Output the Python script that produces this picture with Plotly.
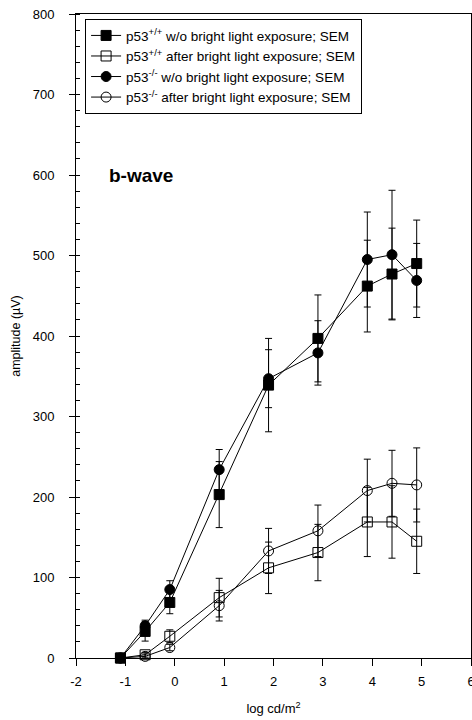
import plotly.graph_objects as go

# Stimulus intensities (log cd/m^2)
log_int = [-1.1, -0.6, -0.1, 0.9, 1.9, 2.9, 3.9, 4.4, 4.9]

# b-wave amplitudes (µV) and SEM
wt_dark = [0, 33, 69, 203, 339, 397, 462, 477, 490]
wt_dark_sem = [0, 12, 14, 41, 58, 54, 57, 57, 54]
wt_light = [0, 4, 27, 75, 112, 131, 169, 169, 145]
wt_light_sem = [0, 3, 8, 24, 32, 35, 43, 45, 40]
ko_dark = [0, 40, 85, 234, 347, 379, 495, 501, 469]
ko_dark_sem = [0, 7, 11, 25, 36, 40, 59, 80, 46]
ko_light = [0, 2, 13, 65, 133, 158, 208, 217, 215]
ko_light_sem = [0, 3, 4, 19, 28, 32, 39, 41, 46]

# Axis tick labels (plain hyphen minus)
x_ticks = [-2, -1, 0, 1, 2, 3, 4, 5, 6]
x_ticktext = ["-2", "-1", "0", "1", "2", "3", "4", "5", "6"]

names = [
    "p53<sup>+/+</sup> w/o bright light exposure; SEM",
    "p53<sup>+/+</sup> after bright light exposure; SEM",
    "p53<sup>-/-</sup> w/o bright light exposure; SEM",
    "p53<sup>-/-</sup> after bright light exposure; SEM",
]
series = [
    (wt_dark, wt_dark_sem, "square"),
    (wt_light, wt_light_sem, "square-open"),
    (ko_dark, ko_dark_sem, "circle"),
    (ko_light, ko_light_sem, "circle-open"),
]

FONT = "Liberation Sans, Arial, sans-serif"

fig = go.Figure()
for name, (vals, sem, sym) in zip(names, series):
    fig.add_trace(go.Scatter(
        x=log_int, y=vals, name=name, mode="lines+markers",
        line=dict(color="black", width=1),
        marker=dict(symbol=sym, size=10, color="black",
                    line=dict(color="black", width=1)),
        error_y=dict(type="data", array=sem, visible=True,
                     color="black", thickness=1, width=3.5),
        cliponaxis=False,
    ))

fig.add_annotation(x=-0.69, y=599, xref="x", yref="y", text="<b>b-wave</b>",
                   showarrow=False, font=dict(family=FONT, size=19, color="black"))

fig.update_layout(
    width=472, height=720,
    margin=dict(l=76, r=1, t=14, b=62),
    paper_bgcolor="white", plot_bgcolor="white",
    font=dict(family=FONT, size=13, color="black"),
    showlegend=True,
    legend=dict(x=0.023, y=0.992, xanchor="left", yanchor="top",
                bgcolor="white", bordercolor="black", borderwidth=1,
                font=dict(family=FONT, size=13.5, color="black"),
                tracegroupgap=0, itemwidth=30),
)
fig.update_xaxes(
    range=[-2, 6], tickvals=x_ticks, ticktext=x_ticktext,
    showgrid=False, zeroline=False,
    showline=True, linecolor="black", linewidth=1, mirror=True,
    ticks="outside", ticklen=7, tickcolor="black",
    ticklabelstandoff=4, ticklabeloverflow="allow",
    tickfont=dict(family=FONT, size=13),
    title=dict(text="log cd/m<sup>2</sup>", standoff=16,
               font=dict(family=FONT, size=13)),
    automargin=False,
)
fig.update_yaxes(
    range=[0, 800], dtick=100, showgrid=False, zeroline=False,
    showline=True, linecolor="black", linewidth=1, mirror=True,
    ticks="outside", ticklen=6, tickcolor="black",
    ticklabelstandoff=12,
    tickfont=dict(family=FONT, size=13),
    minor=dict(dtick=20, ticks="inside", ticklen=4, tickcolor="black", showgrid=False),
    title=dict(text="amplitude (µV)", standoff=9,
               font=dict(family=FONT, size=12.5)),
    automargin=False,
)

fig.write_html("out.html")
